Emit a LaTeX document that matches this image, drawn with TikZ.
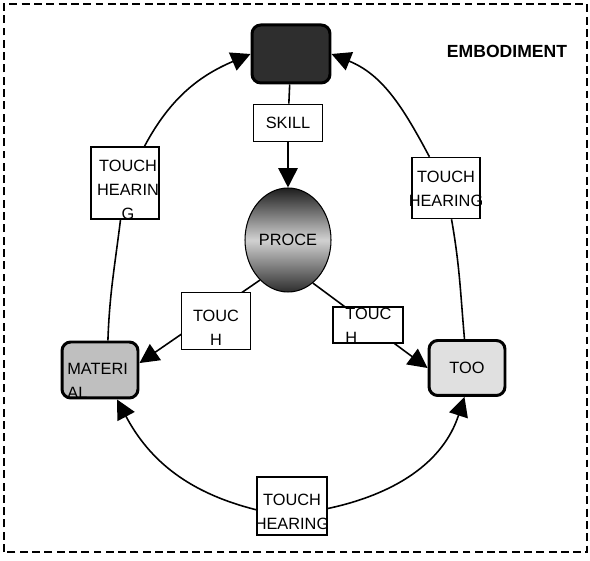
\documentclass[tikz,border=0pt]{standalone}
\usepackage{fontspec}
\setmainfont{Liberation Sans}
\usetikzlibrary{arrows.meta,shapes.geometric}
\tikzset{
  box/.style={draw,line width=0.9pt,fill=white,inner sep=0pt},
  blob/.style={draw,line width=1.7pt,rounded corners=5pt,inner sep=0pt},
  wire/.style={line width=0.9pt},
  tip/.style={wire,-{Triangle[length=11pt,width=11pt]}},
  lbl/.style={font=\fontsize{9.3}{13.5}\selectfont,inner sep=0pt},
}
\begin{document}
\begin{tikzpicture}[x=0.02cm,y=0.02cm]
\useasboundingbox (0,0) rectangle (590,560);
\draw[line width=0.8pt,dash pattern=on 4.5pt off 2.5pt] (4,8) rectangle (587,556);

\node[blob,fill=black!82,minimum width=1.56cm,minimum height=1.16cm] (top) at (291,506) {};
\node[box,lbl,minimum width=1.38cm,minimum height=0.74cm] (skill) at (288,437) {SKILL};
\node[ellipse,draw,line width=0.6pt,lbl,minimum width=1.72cm,minimum height=2.08cm,
  top color=black!88,bottom color=black!82,middle color=black!18] (proc) at (288,320) {PROCE};
\node[blob,fill=black!25,minimum width=1.52cm,minimum height=1.12cm] (mat) at (100,190) {};
\node[blob,lbl,fill=black!12,minimum width=1.52cm,minimum height=1.1cm] (tool) at (467,192) {TOO};
\node[box,minimum width=1.36cm,minimum height=1.44cm] (hearL) at (125,377) {};
\node[box,minimum width=1.36cm,minimum height=1.22cm] (hearR) at (446,372) {};
\node[box,minimum width=1.4cm,minimum height=1.16cm] (hearB) at (292,54) {};
\node[lbl,font=\bfseries\fontsize{10}{12}\selectfont] (title) at (507,509) {EMBODIMENT};

\draw[wire] (top) -- (skill);
\draw[tip] (skill) -- (proc);
\draw[tip] (hearL) to[out=62,in=203] (top.west);
\draw[wire] (hearL) to[out=-97,in=88] (mat.75);
\draw[wire] (tool.95) to[out=95,in=-80] (hearR);
\draw[tip] (hearR) to[out=118,in=-22] (top.east);
\draw[tip] (hearB.186) to[out=166,in=-62] (mat.-60);
\draw[tip] (hearB.-4) to[out=12,in=-108] (tool.-95);
\draw[tip] (proc.235) -- (mat.10);
\draw[tip] (proc.-60) -- (tool.west);

\node[box,minimum width=1.38cm,minimum height=1.14cm] (touchL) at (216,239) {};
\node[box,minimum width=1.4cm,minimum height=0.72cm] (touchR) at (368,235) {};

\node[lbl,align=center] (touchLtxt) at (216,232) {TOUC\\H};
\begin{scope}
  \clip (touchR.south west) rectangle (touchR.north east);
  \node[lbl,align=left,anchor=north west] (touchRtxt) at (345,252) {TOUC\\H};
\end{scope}
\node[lbl,align=center] (hearLtxt) at (128,370) {TOUCH\\HEARIN\\G};
\node[lbl,align=center] (hearRtxt) at (446,371) {TOUCH\\HEARING};
\node[lbl,align=center] (hearBtxt) at (292,48) {TOUCH\\HEARING};
\begin{scope}
  \clip (mat.south west) rectangle (mat.north east);
  \node[lbl,align=left,anchor=north west] (mattxt) at (67,197) {MATERI\\AL};
\end{scope}
\end{tikzpicture}
\end{document}
